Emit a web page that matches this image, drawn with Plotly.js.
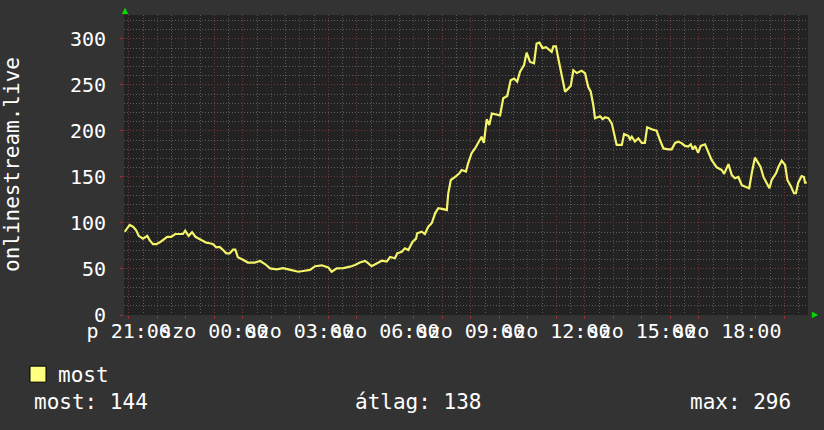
<!DOCTYPE html>
<html>
<head>
<meta charset="utf-8">
<script src="https://cdn.plot.ly/plotly-3.0.1.min.js"></script>
<style>html,body{margin:0;padding:0;background:#333333;}#chart{width:824px;height:430px;}</style>
</head>
<body>
<div id="chart"></div>
<script>
// time in hours counted from Friday 00:00 (24 = Saturday 00:00)
const timeHours = [
 20.86,20.95,21.03,21.15,21.26,21.35,21.50,21.65,21.74,21.85,21.97,22.09,22.20,22.35,22.49,22.63,22.90,22.98,
 23.10,23.22,23.34,23.55,23.72,23.84,23.96,24.07,24.19,24.31,24.42,24.54,24.66,24.74,24.83,25.01,25.18,25.42,
 25.61,25.78,25.96,26.19,26.42,26.60,26.77,26.95,27.12,27.36,27.54,27.77,28.00,28.12,28.30,28.53,28.76,28.94,
 29.11,29.29,29.41,29.52,29.70,29.88,30.05,30.17,30.34,30.42,30.58,30.69,30.81,30.96,31.08,31.12,31.28,31.39,
 31.51,31.63,31.75,31.86,32.04,32.16,32.21,32.30,32.45,32.60,32.68,32.83,32.91,33.03,33.15,33.26,33.38,33.46,
 33.56,33.65,33.74,34.03,34.14,34.28,34.40,34.52,34.63,34.73,34.87,34.96,35.08,35.22,35.31,35.41,35.52,35.64,
 35.72,35.84,35.90,35.99,36.07,36.19,36.31,36.42,36.51,36.60,36.72,36.89,37.01,37.12,37.21,37.30,37.36,37.54,
 37.63,37.71,37.83,37.95,38.06,38.12,38.30,38.38,38.53,38.59,38.65,38.76,38.88,39.00,39.11,39.19,39.35,39.52,
 39.64,39.76,39.93,40.05,40.17,40.28,40.40,40.52,40.63,40.72,40.79,40.87,40.98,41.07,41.22,41.34,41.45,41.63,
 41.81,41.89,42.04,42.16,42.27,42.39,42.51,42.68,42.77,42.86,42.97,43.09,43.17,43.27,43.38,43.48,43.56,43.71,
 43.79,43.91,44.03,44.11,44.23,44.34,44.41,44.49,44.61,44.69,44.73,44.79
];
const viewers = [
 90.5,94,98,96,92,86,83,86,81,77,77,79,81.5,85,85,88,88,91.6,
 86,90,85,81.5,78.6,78,77,73.6,74,70.6,67,67,71,71,62.7,60,57,57,
 58.7,55.4,50.7,49.6,51,49.6,48,47,47.8,49,53,54,51.8,47,50.7,51,52.5,54.3,
 57,58.7,56,53,56,59,58,63,61.6,67,68.8,72.5,70.6,79.7,83,88.8,90.6,88,
 96,99.7,110.5,116,115,114,132,146.7,150,154,157.6,155.8,165,175.8,181,186.6,193.8,187,
 212.7,206.5,219,217,235.5,238,255,257,253.6,264.5,271.7,285,275,273.6,295,296,290,291,
 289,286,292,292,279,261,242.7,246,249,266,263,265.5,262.7,248,242.7,228,213.8,216,
 212.7,215,213.8,208,193.8,184.8,184.8,196.7,194.6,191,193.8,188.4,192,187,187,204,201.8,200.3,
 190,181,180,180,187,188.4,186.6,183.7,183,185.5,180,183.7,176.4,183.7,185.5,175.8,168.5,160.5,
 157.6,153.3,164,152,148.6,150,141,138.8,137.7,154,171,165,161,150,143,137.7,146.7,154,
 160.5,167.7,163,146.7,140,132.3,132.3,143.8,151,150,143.8,143.8
];
const seriesName = "most";
const yAxisTitle = "onlinestream.live";
const tickHours = [21,24,27,30,33,36,39,42];
const tickLabels = ["p 21:00","szo 00:00","szo 03:00","szo 06:00","szo 09:00","szo 12:00","szo 15:00","szo 18:00"];
const statLabels = ["most","átlag","max"];
const statValues = [144,138,296];

// hourly major grid, labels only every 3 hours
const gridHours = [];
const gridText = [];
for (let h = 21; h <= 44; h++) {
  gridHours.push(h);
  const i = tickHours.indexOf(h);
  gridText.push(i >= 0 ? tickLabels[i] : "");
}

const mono = "DejaVu Sans Mono, monospace";
const traces = [
  {
    x: timeHours, y: viewers, type: "scatter", mode: "lines",
    line: {color: "#f4f46a", width: 2.2}, showlegend: false, hoverinfo: "skip"
  },
  {
    x: [null], y: [null], type: "scatter", mode: "markers", name: seriesName,
    marker: {symbol: "square", size: 17, color: "#ffff80", line: {color: "#000000", width: 1}},
    showlegend: true
  }
];

const layout = {
  width: 824, height: 430,
  margin: {l: 124, r: 16, t: 15, b: 115},
  paper_bgcolor: "#333333",
  plot_bgcolor: "#222222",
  font: {family: mono, color: "#ffffff", size: 20},
  showlegend: true,
  legend: {
    xref: "container", yref: "container",
    x: 18/824, y: 1 - 354/430, xanchor: "left", yanchor: "top",
    bgcolor: "rgba(0,0,0,0)", borderwidth: 0,
    font: {family: mono, size: 21, color: "#ffffff"}
  },
  xaxis: {
    range: [20 + 50/60, 44 + 50/60],
    tickmode: "array", tickvals: gridHours, ticktext: gridText,
    tickangle: 0,
    showgrid: true, gridcolor: "#733838", griddash: "1px,2px", gridwidth: 1,
    minor: {dtick: 0.5, tick0: 0, showgrid: true, gridcolor: "#5c5c5c", griddash: "1px,2px", gridwidth: 1, ticks: ""},
    ticks: "outside", ticklen: 3, tickcolor: "#a03030",
    ticklabelstandoff: -5,
    zeroline: false, showline: false, fixedrange: true,
    tickfont: {family: mono, size: 20, color: "#ffffff"}
  },
  yaxis: {
    range: [0, 326],
    tickmode: "linear", tick0: 0, dtick: 50,
    showgrid: true, gridcolor: "#733838", griddash: "1px,2px", gridwidth: 1,
    minor: {dtick: 10, showgrid: true, gridcolor: "#5c5c5c", griddash: "1px,2px", gridwidth: 1, ticks: ""},
    ticks: "outside", ticklen: 3, tickcolor: "#a03030",
    ticklabelstandoff: 10,
    zeroline: false, showline: false, fixedrange: true,
    tickfont: {family: mono, size: 20, color: "#ffffff"}
  },
  annotations: [
    {xref: "paper", yref: "paper", x: (12 - 124)/684, y: 0.5, text: yAxisTitle, textangle: -90,
     showarrow: false, xanchor: "center", yanchor: "middle", font: {family: mono, size: 21, color: "#ffffff"}},
    {xref: "paper", yref: "paper", x: (32 - 124)/684, y: (315 - 402)/300, text: statLabels[0] + ": " + statValues[0],
     showarrow: false, xanchor: "left", yanchor: "middle", font: {family: mono, size: 21, color: "#ffffff"}},
    {xref: "paper", yref: "paper", x: (353 - 124)/684, y: (315 - 402)/300, text: statLabels[1] + ": " + statValues[1],
     showarrow: false, xanchor: "left", yanchor: "middle", font: {family: mono, size: 21, color: "#ffffff"}},
    {xref: "paper", yref: "paper", x: (793 - 124)/684, y: (315 - 402)/300, text: statLabels[2] + ": " + statValues[2],
     showarrow: false, xanchor: "right", yanchor: "middle", font: {family: mono, size: 21, color: "#ffffff"}},
    {xref: "paper", yref: "paper", x: (125 - 124)/684, y: (315 - 10)/300, text: "▲",
     showarrow: false, xanchor: "center", yanchor: "middle", font: {family: "DejaVu Sans", size: 8, color: "#00dd00"}},
    {xref: "paper", yref: "paper", x: (815 - 124)/684, y: (315 - 314)/300, text: "▶",
     showarrow: false, xanchor: "center", yanchor: "middle", font: {family: "DejaVu Sans", size: 8, color: "#00dd00"}}
  ]
};

Plotly.newPlot("chart", traces, layout, {displayModeBar: false, staticPlot: true});
</script>
</body>
</html>
